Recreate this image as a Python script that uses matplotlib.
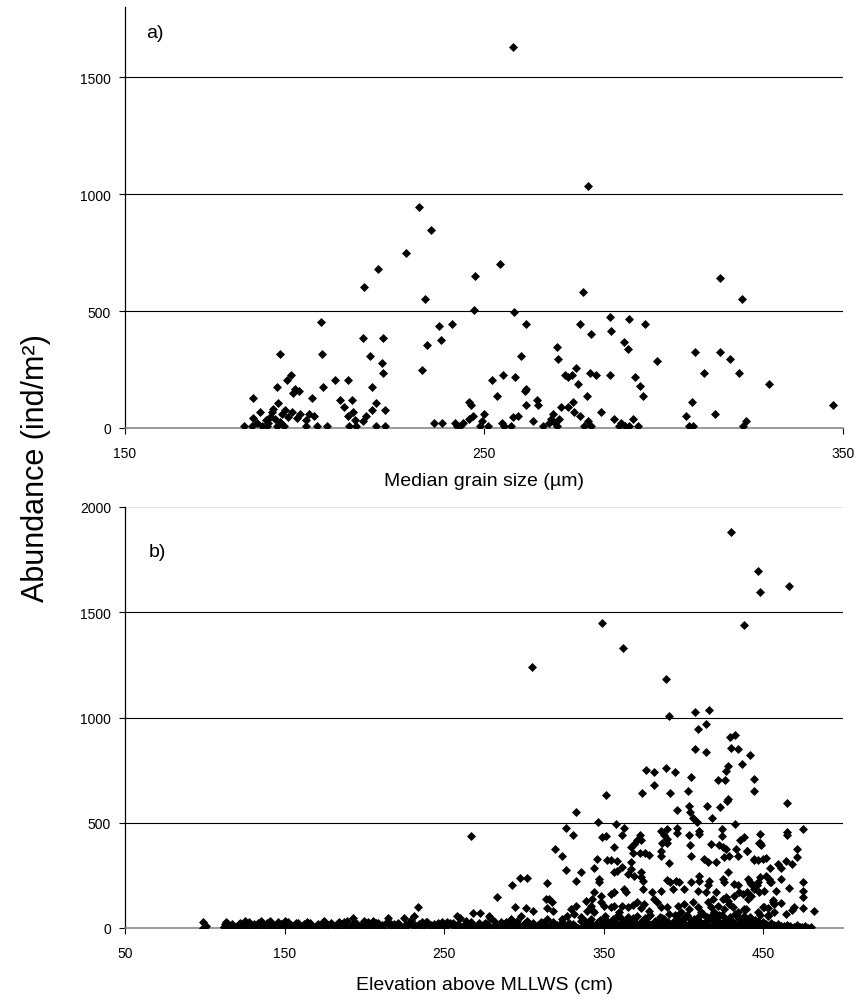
import matplotlib
matplotlib.use("Agg")
import matplotlib.pyplot as plt

plt.rcParams['font.family'] = ['Liberation Sans', 'DejaVu Sans']

# a) abundance vs median grain size
grain = [231.9, 235.2, 228.2, 220.5, 216.6, 233.5, 204.7, 237.5, 241.1, 216.3, 221.9, 238.0, 234.0,
         193.2, 205.0, 218.2, 221.6, 221.8, 232.7, 196.2, 195.2, 208.6, 212.2, 192.4, 205.2, 218.8,
         196.8, 197.4, 198.5, 185.7, 202.1, 210.0, 213.3, 220.0, 192.5, 210.9, 218.9, 222.5, 213.4,
         187.6, 191.3, 194.6, 196.4, 193.6, 198.7, 201.3, 202.6, 212.2, 217.0, 185.7, 190.4, 195.4,
         197.8, 200.3, 214.1, 216.4, 189.2, 191.8, 186.7, 183.1, 185.3, 188.1, 189.5, 192.3, 194.3,
         200.3, 203.5, 206.3, 212.5, 214.3, 219.8, 222.4, 236.0, 238.3, 242.0, 242.6, 191.0, 193.2,
         189.9,
         258.2, 278.9,
         254.5, 247.6, 277.7, 315.7, 321.9, 247.1, 258.3, 285.2, 290.5, 261.8, 276.7, 294.9, 285.5,
         279.9, 270.2, 288.9, 290.0, 260.2, 270.6, 298.1, 308.9, 315.7, 318.6, 311.4, 321.0, 329.4,
         347.3, 252.3, 255.2, 258.7, 253.5, 261.7, 261.3, 272.6, 273.4, 274.5, 275.5, 276.3, 279.5,
         281.1, 285.1, 278.6, 292.2, 293.5, 294.3, 245.8, 246.4, 264.7, 265.1, 261.6, 274.9, 271.4,
         273.3, 275.2, 276.7, 282.6, 307.9, 314.3, 306.3, 322.9, 322.1, 307.0, 308.3, 249.9, 249.4,
         247.0, 245.9, 248.9, 251.1, 243.3, 244.2, 255.0, 255.7, 257.4, 258.2, 259.4, 263.7, 266.5,
         268.1, 268.7, 269.3, 269.8, 270.4, 271.0, 277.9, 278.9, 279.8, 286.1, 287.6, 288.3, 289.3,
         290.5, 291.4, 292.9]
abund_a = [945, 848, 750, 681, 603, 553, 454, 434, 444, 386, 386, 376, 356,
           316, 316, 307, 277, 237, 247, 227, 207, 207, 207, 177, 177, 177,
           149, 167, 159, 128, 128, 119, 119, 108, 108, 88, 78, 78, 70,
           70, 81, 78, 70, 61, 61, 61, 51, 51, 51, 41, 47, 47,
           43, 33, 33, 31, 33, 39, 21, 10, 10, 10, 10, 10, 10,
           10, 10, 10, 10, 10, 10, 10, 21, 21, 21, 10, 67, 27,
           21,
           1627, 1036,
           701, 651, 583, 641, 553, 503, 494, 474, 464, 444, 444, 444, 414,
           404, 346, 366, 336, 307, 296, 287, 326, 326, 296, 237, 237, 189,
           100, 207, 227, 217, 138, 167, 159, 227, 217, 227, 257, 189, 237,
           227, 227, 138, 217, 179, 138, 110, 99, 119, 99, 99, 110, 88,
           88, 70, 50, 70, 110, 60, 50, 30, 10, 10, 10, 60, 30,
           50, 39, 10, 10, 10, 21, 21, 10, 10, 47, 51, 31, 10,
           21, 39, 60, 21, 10, 39, 10, 30, 10, 39, 10, 21, 10,
           10, 39, 10]

# b) abundance vs elevation above MLLWS
elev = [430, 447, 448, 466, 438, 349, 362, 305, 389, 391, 407, 416,
        465, 475, 465, 465, 432, 434, 442, 437, 444, 444, 438, 448, 448, 440, 444, 452, 454, 459,
        461, 464, 468, 471, 471, 475, 475, 475, 475, 482, 461, 466, 469, 468, 464, 461, 457, 456,
        453, 453, 450, 454, 452, 448, 446, 442, 440, 439,
        408.9, 414, 407, 414, 429, 432, 430, 421.8, 426, 427.7, 426.9, 404.7, 403, 395, 389, 376.4,
        381.7, 381.7, 373.9, 391.7, 351.7, 395.9, 403.2, 404, 414.9, 417.9, 422.9, 427.5, 427.9,
        405.7, 408.4, 409.5, 409.5, 357.6, 362.8, 361.8, 372.9, 385.8, 387.5, 390, 390, 395.9,
        395.9, 403.4, 424, 424, 435.6, 349.2, 351.3, 356.5, 367, 368.7, 371.2, 373.3, 386.3, 389.6,
        404.3, 417.2, 422.5, 424.6, 426.6, 433, 447.6, 448.6, 439.8, 368.1, 372.9, 375.8, 378.5,
        385.8, 385.8, 391.1, 404.7, 412.6, 415.1, 420.4, 425.6, 428.7, 434, 345.7, 352, 354.5,
        358.6, 367.4, 344, 367, 446.5, 449.7, 444.4, 356.5, 358.6, 361.8, 365, 373.3, 373.3, 374.4,
        369.1, 389.6, 391.7, 395.3, 397.4, 404.7, 409.9, 409.9, 416.2, 415.1, 424.6, 425.6, 427.7,
        431.9, 434, 435, 440.2, 442.3, 446.5, 447.6, 453.8, 454.9, 458, 344, 343, 348.2, 354.5,
        356.5, 362.8, 363.9, 374.4, 380.6, 385.8, 393.2, 400.5, 408.9, 414.1, 418.3, 420.4, 426.6,
        427.7, 431.9, 437.1, 440.2, 442.3, 444.4, 450.7, 341.9, 343.6, 348.2, 350.3, 354.5, 356.5,
        359.7, 361.8, 365, 368.1, 371.2, 373.3, 375.4, 378.5, 381.7, 383.7, 385.8, 390, 396.3,
        398.4, 400.5, 403.6, 405.7, 408.9, 411, 415.1, 417.2, 419.3, 421.4, 424.6, 425.6, 428.7,
        430.8, 434, 438.2, 446.5, 450.7, 452.8, 456, 457,
        266.6, 332.7, 346.5, 326.6, 330.6, 319.5, 323.7, 326.6, 335.6, 332.7, 347.1, 347.1, 297.6,
        301.7, 292.5, 314.5, 283.3, 313.9, 315.8, 317.4, 294.6, 301.3, 305.5, 268.3, 272.4, 314.5,
        318.5, 329.4, 332.5, 338.8, 339.4, 344, 258.2, 259.9, 278.1, 278.7, 248.8, 251.5, 291.7,
        298, 288.6, 302.2, 310.5, 314.7, 324.1, 327.3, 331.5, 335.6, 341.9,
        99, 99, 101, 113, 112, 118, 125, 135, 141, 150, 164, 175, 184, 187, 193, 200, 205.5, 215,
        225, 231, 233.5, 236, 243.5,
        112, 113, 114, 115, 117, 119, 120, 122, 123, 125, 127, 128, 130, 131, 133, 135, 136, 138,
        139, 141, 143, 144, 146, 148, 149, 151, 152, 154, 156, 157, 159, 161, 162, 164, 166, 167,
        169, 171, 172, 174, 176, 177, 179, 181, 182, 184, 186, 187, 189, 191, 192, 194, 196, 197,
        199, 201, 202, 204, 206, 207, 209, 211, 212, 214, 216, 217, 219, 221, 222, 224, 226, 227,
        229, 231, 232, 234, 236, 237, 239, 241, 242, 244, 246, 247, 249, 251, 252, 254, 256, 257,
        259, 261, 262, 264, 266, 267, 269, 271, 272, 274, 276, 277, 279, 281, 282, 284, 286, 287,
        289, 291, 292, 294, 296, 297, 299, 301, 302, 304, 306, 307, 309, 311, 312, 314, 316, 317,
        319, 321, 322, 324, 326, 327, 329, 331, 332, 334, 336, 337, 339, 341, 342, 344, 346,
        347, 348, 349, 350, 351, 352, 353, 354, 355, 356, 357, 358, 359, 360, 361, 362, 363, 364,
        365, 366, 367, 368, 369, 370, 371, 372, 373, 374, 375, 376, 377, 378, 379, 380, 381, 382,
        383, 384, 385, 386, 387, 388, 389, 390, 391, 392, 393, 394, 395, 396, 397, 398, 399, 400,
        401, 402, 403, 404, 405, 406, 407, 408, 409, 410, 411, 412, 413, 414, 415, 416, 417, 418,
        419, 420, 421, 422, 423, 424, 425, 426, 427, 428, 429, 430, 431, 432, 433, 434, 435, 436,
        437, 438, 439, 440, 441, 442, 443, 444, 445, 446, 447, 448, 449, 450, 451, 452, 453, 454,
        455, 456, 457, 458, 459, 460, 461, 462, 463, 464, 465, 466, 467, 468, 469, 470, 471, 472,
        473, 474, 476, 478, 480,
        346.5, 348.5, 350.5, 352.5, 354.5, 356.5, 358.5, 360.5, 362.5, 364.5, 366.5, 368.5, 370.5,
        372.5, 374.5, 376.5, 378.5, 380.5, 382.5, 384.5, 386.5, 388.5, 390.5, 392.5, 394.5, 396.5,
        398.5, 400.5, 402.5, 404.5, 406.5, 408.5, 410.5, 412.5, 414.5, 416.5, 418.5, 420.5, 422.5,
        424.5, 426.5, 428.5, 430.5, 432.5, 434.5, 436.5, 438.5, 440.5, 442.5, 444.5, 446.5, 448.5,
        450.5, 452.5, 454.5, 456.5, 458.5,
        112.5, 121.5, 133.5, 147.5, 158.5, 170.5, 183.5, 195.5, 208.5, 218.5, 228.5, 238.5, 255.5,
        263.5, 275.5, 285.5, 295.5, 305.5, 318.5, 328.5, 338.5]
abund_b = [1882, 1695, 1597, 1627, 1440, 1449, 1330, 1241, 1183, 1005, 1024, 1035,
           594, 470, 456, 440, 495, 852, 821, 779, 710, 651, 432, 448, 403, 368, 329, 332, 286, 305,
           286, 317, 305, 376, 336, 220, 178, 146, 94, 81, 233, 189, 99, 85, 67, 119, 114, 135,
           94, 62, 99, 218, 249, 241, 205, 218, 170, 90,
           946, 968, 848, 838, 906, 917, 857, 702, 702, 768, 748, 719, 651, 740, 759, 749,
           741, 678, 641, 641, 630, 562, 581, 549, 581, 524, 573, 605, 614,
           524, 503, 463, 448, 492, 476, 443, 444, 463, 443, 471, 424, 476,
           449, 440, 471, 436, 416, 432, 435, 384, 384, 397, 416, 416, 405, 405,
           392, 397, 392, 387, 376, 373, 405, 392, 364, 357, 357, 357, 348,
           368, 344, 310, 344, 329, 313, 313, 337, 344, 344, 329, 325, 325,
           317, 313, 284, 281, 321, 329, 325, 265, 273, 289, 257, 265, 241, 225,
           249, 230, 217, 225, 217, 217, 249, 225, 225, 202, 233, 217, 265,
           210, 202, 170, 233, 210, 217, 170, 233, 217, 178, 170, 138, 154, 162,
           170, 186, 170, 186, 170, 178, 186, 186, 178, 173, 138, 170, 146,
           130, 154, 162, 138, 154, 186, 178, 106, 83, 122, 106, 98, 106,
           75, 106, 98, 111, 122, 94, 114, 83, 138, 122, 98, 98, 106,
           75, 114, 90, 122, 98, 75, 122, 98, 75, 106, 138, 90, 114,
           98, 75, 90, 75, 98, 59, 122, 75,
           435, 551, 503, 475, 443, 375, 344, 276, 265, 225, 233, 217, 237,
           237, 206, 216, 148, 138, 138, 122, 98, 97, 79, 70, 70, 95,
           79, 90, 106, 130, 83, 75, 59, 48, 59, 46, 30, 30, 43,
           59, 27, 35, 27, 43, 43, 59, 67, 51, 43,
           30, 0, 11, 30, 3, 11, 35, 35, 35, 35, 27, 35, 27, 30, 48, 35, 35, 48,
           48, 59, 98, 27, 19,
           3, 14, 25, 6, 18, 2, 11, 22, 5, 15, 0, 28, 8, 19, 3, 30, 12, 4,
           24, 9, 16, 1, 27, 7, 20, 2, 30, 13, 5, 22, 10, 0, 17, 6, 26, 11,
           3, 19, 8, 29, 2, 14, 23, 5, 12, 0, 20, 9, 31, 4, 15, 24, 1, 11,
           18, 6, 27, 3, 13, 22, 7, 16, 2, 30, 10, 19, 4, 25, 12, 0, 17, 8,
           36, 5, 14, 21, 2, 9, 28, 6, 15, 3, 24, 11, 1, 18, 8, 26, 4, 13,
           20, 0, 9, 16, 3, 27, 7, 12, 22, 2, 10, 18, 5, 32, 14, 1, 8, 20,
           3, 12, 26, 6, 15, 0, 10, 22, 4, 17, 8, 1, 13, 5, 24, 9, 2, 18,
           6, 12, 0, 28, 7, 15, 3, 20, 10, 1, 33, 8, 16, 4, 25, 11, 2,
           14, 40, 5, 22, 55, 9, 30, 2, 18, 45, 6, 26, 60, 12, 3, 35, 8, 20,
           50, 1, 15, 38, 5, 25, 58, 10, 2, 30, 16, 48, 7, 22, 62, 4, 13, 35,
           1, 27, 52, 9, 18, 42, 3, 24, 65, 11, 5, 33, 19, 55, 2, 28, 8, 45,
           15, 60, 4, 22, 38, 1, 30, 12, 50, 6, 26, 68, 3, 18, 40, 9, 58, 2,
           32, 14, 47, 5, 25, 62, 10, 36, 1, 20, 54, 7, 29, 66, 3, 16, 44, 8,
           24, 57, 2, 35, 12, 50, 5, 22, 40, 1, 15, 60, 6, 28, 3, 18, 9, 2,
           25, 7, 14, 1, 20, 5, 11, 0, 8, 3, 16, 4, 10, 1, 6, 2, 12, 0,
           5, 3, 8, 2, 5,
           28, 9, 44, 17, 3, 36, 21, 52, 6, 31, 14, 47, 2,
           25, 40, 11, 58, 19, 4, 33, 49, 8, 27, 15, 62, 37,
           5, 22, 55, 13, 42, 1, 29, 18, 51, 7, 34, 24, 60,
           10, 45, 3, 30, 16, 53, 21, 39, 6, 26, 12, 35, 4,
           20, 9, 15, 2, 7,
           21, 17, 24, 19, 22, 16, 25, 18, 23, 20, 26, 29, 24,
           31, 22, 27, 35, 24, 30, 26, 33]

fig = plt.figure(figsize=(8.58, 10.03), dpi=100)
W, H = 858, 1003


def style_axes(ax, ymax):
    ax.spines['top'].set_visible(False)
    ax.spines['right'].set_visible(False)
    ax.spines['left'].set_color('black')
    ax.spines['left'].set_linewidth(0.9)
    ax.spines['bottom'].set_color('#808080')
    ax.spines['bottom'].set_linewidth(1.1)
    ax.set_ylim(0, ymax)
    ax.set_yticks([0, 500, 1000, 1500, 2000][: ymax // 500 + 1])
    for v in [500, 1000, 1500]:
        ax.axhline(v, color='black', linewidth=0.8, zorder=1)
    ax.tick_params(axis='both', direction='out', length=4, width=0.8, labelsize=10, colors='black')
    ax.tick_params(axis='y', pad=6)
    ax.tick_params(axis='x', pad=9)


ax_a = fig.add_axes([125 / W, 1 - 429 / H, 718 / W, 421 / H])
ax_a.scatter(grain, abund_a, marker='D', s=21, color='black', linewidths=0, zorder=3)
ax_a.set_xlim(150, 350)
ax_a.set_xticks([150, 250, 350])
style_axes(ax_a, 1800)
ax_a.text(0.029, 0.94, 'a)', transform=ax_a.transAxes, fontsize=14, va='center', ha='left')

ax_b = fig.add_axes([125 / W, 1 - 929 / H, 718 / W, 421 / H])
ax_b.scatter(elev, abund_b, marker='D', s=21, color='black', linewidths=0, zorder=3)
ax_b.set_xlim(50, 500)
ax_b.set_xticks([50, 150, 250, 350, 450])
style_axes(ax_b, 2000)
ax_b.axhline(2000, color='#e4e4e4', linewidth=0.8, zorder=1)
ax_b.text(0.033, 0.895, 'b)', transform=ax_b.transAxes, fontsize=14, va='center', ha='left')

fig.text(484 / W, 1 - 481 / H, 'Median grain size (µm)', fontsize=14, ha='center', va='center')
fig.text(484 / W, 1 - 985 / H, 'Elevation above MLLWS (cm)', fontsize=14, ha='center', va='center')
fig.text(36 / W, 1 - 468 / H, 'Abundance (ind/m²)', fontsize=22, rotation=90,
         ha='center', va='center')

fig.savefig('out.png', dpi=100)
